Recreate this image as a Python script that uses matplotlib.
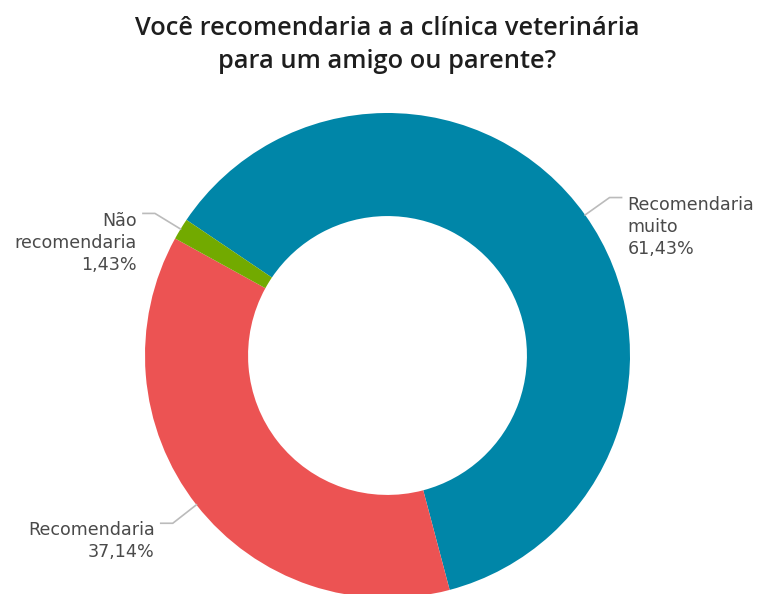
import numpy as np
import matplotlib
matplotlib.use("Agg")
import matplotlib.pyplot as plt

# Dados
labels = ["Recomendaria\nmuito", "Recomendaria", "Não\nrecomendaria"]
values = [61.43, 37.14, 1.43]
colors = ["#0086A8", "#EC5353", "#72AA00"]
title = "Você recomendaria a a clínica veterinária\npara um amigo ou parente?"

W, H = 758, 594
fig = plt.figure(figsize=(W / 100, H / 100), dpi=100)
ax = fig.add_axes([0, 0, 1, 1])

cx, cy, r = 387.5, H - 355.5, 242.5
wedges, _ = ax.pie(values, colors=colors, startangle=146, counterclock=False,
                   center=(cx, cy), radius=r,
                   wedgeprops=dict(width=r * 0.425, linewidth=0))

ax.set_xlim(0, W)
ax.set_ylim(0, H)
ax.set_aspect("equal")
ax.axis("off")

# Rótulos com linhas de chamada
line_h = 23
for w, lab, v in zip(wedges, labels, values):
    ang = np.deg2rad((w.theta1 + w.theta2) / 2)
    x0, y0 = cx + r * np.cos(ang), cy + r * np.sin(ang)
    x1, y1 = cx + (r + 30) * np.cos(ang), cy + (r + 30) * np.sin(ang)
    side = 1 if np.cos(ang) > 0 else -1
    x2 = x1 + side * 12
    ax.plot([x0, x1, x2], [y0, y1, y1], color="#bbbbbb", lw=1.2)
    txt = lab + "\n" + f"{v:.2f}%".replace(".", ",")
    n = txt.count("\n")
    ax.text(x2 + side * 6, y1 - 10.5 - n * line_h, txt,
            ha="left" if side > 0 else "right", va="baseline",
            fontsize=12.6, family="DejaVu Sans", color="#4a4a4a",
            multialignment="left" if side > 0 else "right", linespacing=1.3)

fig.text(387.5 / W, 1 - 67.7 / H, title, ha="center", va="baseline", fontsize=18.3,
         family="Open Sans", fontweight="semibold", color="#1e1e1e",
         linespacing=1.4)

fig.savefig("out.png", dpi=100, facecolor="white")
